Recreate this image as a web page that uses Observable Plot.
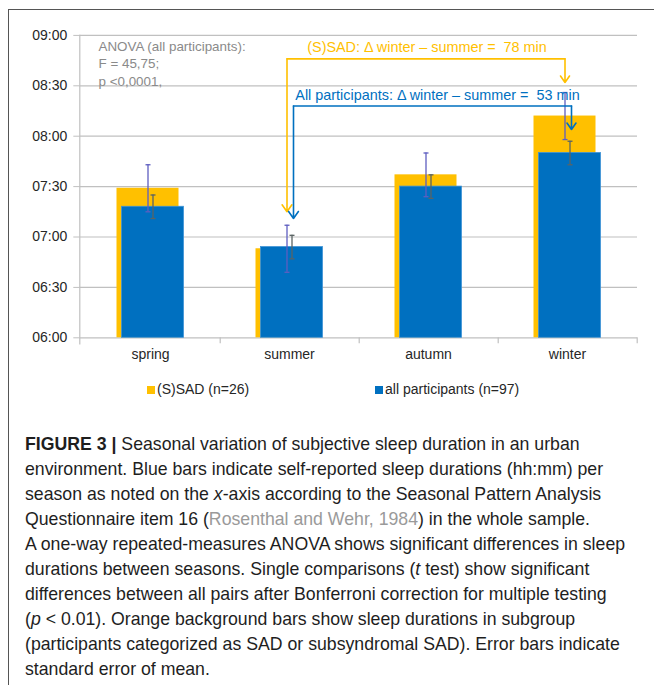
<!DOCTYPE html>
<html><head><meta charset="utf-8">
<script src="https://cdn.jsdelivr.net/npm/d3@7"></script>
<script src="https://cdn.jsdelivr.net/npm/@observablehq/plot@0.6"></script>
<style>
body{margin:0;background:#fff;width:654px;height:685px;overflow:hidden;position:relative;font-family:"Liberation Sans",Arial,sans-serif;}
#frame{position:absolute;left:8px;top:9px;width:700px;height:700px;border-left:1.5px solid #555;border-top:1.5px solid #555;}
#chart{position:absolute;left:0;top:0;}
#legend{position:absolute;top:381px;left:0;width:654px;height:18px;font-size:14px;color:#262626;}
#legend span.item{position:absolute;top:0;white-space:nowrap;}
#legend i{display:inline-block;width:8px;height:8px;margin-right:2px;vertical-align:0px;}
#caption{position:absolute;left:25px;top:432px;font-size:17.7px;line-height:25px;color:#1e1e1e;white-space:nowrap;}
#caption .ref{color:#9a9a9a;}
</style></head>
<body>
<div id="frame"></div>
<div id="chart"></div>
<div id="legend"></div>
<div id="caption"></div>
<script>
// ---- data ----
const seasons = ["spring", "summer", "autumn", "winter"];
const sadMean = ["07:29", "06:53", "07:37", "08:12"];   // (S)SAD, hh:mm
const allMean = ["07:18", "06:54", "07:30", "07:50"];   // all participants, hh:mm
const sadSE = [14, 14, 13, 14];                          // minutes
const allSE = [7, 7, 7, 7];                              // minutes
const yTicks = ["06:00", "06:30", "07:00", "07:30", "08:00", "08:30", "09:00"];
const groups = ["(S)SAD (n=26)", "all participants (n=97)"];
const groupColors = ["#FFC000", "#0070C0"];
const anovaText = ["ANOVA (all participants):", "F = 45,75;", "p <0,0001,"];
const deltaLabels = ["(S)SAD: \u0394 winter \u2013 summer =\u00a0 78 min", "All participants: \u0394 winter \u2013 summer =\u00a0 53 min"];
const deltaLabelLevel = ["08:53", "08:24"];
const connectorLevel = ["08:46", "08:18"];
const arrowTipSummer = ["07:15", "07:11"];
const arrowTipWinter = ["08:32", "08:04"];

// ---- helpers ----
const toMin = s => +s.slice(0, 2) * 60 + +s.slice(3);
const fmt = m => String(Math.floor(m / 60)).padStart(2, "0") + ":" + String(m % 60).padStart(2, "0");

const rows = seasons.map((s, i) => ({season: s, sad: toMin(sadMean[i]), all: toMin(allMean[i]), sadSE: sadSE[i], allSE: allSE[i]}));
const capsSad = rows.flatMap(d => [{season: d.season, y: d.sad - d.sadSE}, {season: d.season, y: d.sad + d.sadSE}]);
const capsAll = rows.flatMap(d => [{season: d.season, y: d.all - d.allSE}, {season: d.season, y: d.all + d.allSE}]);
const capSymbol = {draw(ctx, size) { const r = Math.sqrt(size / Math.PI); ctx.moveTo(-r, 0); ctx.lineTo(r, 0); }};

const W = 654, H = 372, mL = 79.3, mR = 17, mT = 34.9, mB = 34.7;
const step = (W - mL - mR) / seasons.length;
const yBase = toMin(yTicks[0]);
const yTop = toMin(yTicks[yTicks.length - 1]);
const tickVals = yTicks.map(toMin);
const off = [-2.5, 2.5];
const connOff = [-2.5, 4];

const connectors = [0, 1].flatMap(k => [
  {k, season: "summer", y: toMin(connectorLevel[k])},
  {k, season: "winter", y: toMin(connectorLevel[k])}
]);
const arrows = [0, 1].flatMap(k => [
  {k, season: "summer", y1: toMin(connectorLevel[k]), y2: toMin(arrowTipSummer[k])},
  {k, season: "winter", y1: toMin(connectorLevel[k]), y2: toMin(arrowTipWinter[k])}
]);

const marks = [
  Plot.gridY(tickVals, {stroke: "#c0c0c0", strokeOpacity: 1, strokeWidth: 1.2}),
  Plot.frame({anchor: "left", stroke: "#c0c0c0", strokeWidth: 1.2, insetBottom: -6}),
  Plot.ruleX(seasons, {x: d => d, dx: step / 2, y1: yBase, y2: yBase, insetBottom: -6, stroke: "#c0c0c0", strokeWidth: 1.2}),
  Plot.axisY(tickVals, {tickFormat: fmt, tickSize: 6, tickPadding: 6.5, stroke: "#c0c0c0", fill: "#262626", fontSize: 14, label: null}),
  Plot.axisX({tickSize: 0, tickPadding: 11, fontSize: 14, fill: "#262626", label: null}),
  Plot.barY(rows, {x: "season", y1: yBase, y2: "sad", fill: groupColors[0], dx: off[0]}),
  Plot.barY(rows, {x: "season", y1: yBase, y2: "all", fill: groupColors[1], stroke: "#3f93d6", strokeWidth: 0.8, dx: off[1]}),
  Plot.ruleX(rows, {x: "season", y1: d => d.sad - d.sadSE, y2: d => d.sad + d.sadSE, stroke: "#5e5ec0", strokeWidth: 1.3, dx: off[0]}),
  Plot.dot(capsSad, {x: "season", y: "y", symbol: capSymbol, r: 2.5, stroke: "#5e5ec0", strokeWidth: 1.3, dx: off[0]}),
  Plot.ruleX(rows, {x: "season", y1: d => d.all - d.allSE, y2: d => d.all + d.allSE, stroke: "#5a6464", strokeWidth: 1.3, dx: off[1]}),
  Plot.dot(capsAll, {x: "season", y: "y", symbol: capSymbol, r: 2.5, stroke: "#5a6464", strokeWidth: 1.3, dx: off[1]}),
  ...[0, 1].map(k => Plot.line(connectors.filter(d => d.k === k), {x: "season", y: "y", stroke: groupColors[k], strokeWidth: 1.6, dx: connOff[k]})),
  ...[0, 1].map(k => Plot.arrow(arrows.filter(d => d.k === k), {x: "season", y1: "y1", y2: "y2", stroke: groupColors[k], strokeWidth: 1.6, headLength: 8, headAngle: 70, dx: connOff[k]})),
  ...[0, 1].map(k => Plot.text([deltaLabels[k]], {x: () => "autumn", y: () => toMin(deltaLabelLevel[k]), text: d => d, fill: groupColors[k], fontSize: 14.4, dx: k === 0 ? -1.5 : 9})),
  Plot.text([anovaText.join("\n")], {frameAnchor: "top-left", text: d => d, dx: 18.7, dy: 3.3, lineAnchor: "top", lineHeight: 1.3, fontSize: 13.4, fill: "#8a8a8a"})
];

const chart = Plot.plot({
  width: W, height: H,
  marginLeft: mL, marginRight: mR, marginTop: mT, marginBottom: mB,
  style: {fontFamily: "'Liberation Sans', Arial, sans-serif", background: "transparent"},
  x: {domain: seasons, paddingInner: 0.553, paddingOuter: 0.2765, axis: null},
  y: {domain: [yBase, yTop], axis: null},
  marks
});
document.getElementById("chart").appendChild(chart);

// legend
const legendX = [147, 375];
const legend = document.getElementById("legend");
groups.forEach((g, i) => {
  const s = document.createElement("span");
  s.className = "item";
  s.style.left = legendX[i] + "px";
  s.innerHTML = `<i style="background:${groupColors[i]}"></i>${g}`;
  legend.appendChild(s);
});

// caption
const captionLines = [
  "<b>FIGURE 3 |</b> Seasonal variation of subjective sleep duration in an urban",
  "environment. Blue bars indicate self-reported sleep durations (hh:mm) per",
  "season as noted on the <i>x</i>-axis according to the Seasonal Pattern Analysis",
  "Questionnaire item 16 (<span class='ref'>Rosenthal and Wehr, 1984</span>) in the whole sample.",
  "A one-way repeated-measures ANOVA shows significant differences in sleep",
  "durations between seasons. Single comparisons (<i>t</i> test) show significant",
  "differences between all pairs after Bonferroni correction for multiple testing",
  "(<i>p</i> &lt; 0.01). Orange background bars show sleep durations in subgroup",
  "(participants categorized as SAD or subsyndromal SAD). Error bars indicate",
  "standard error of mean."
];
document.getElementById("caption").innerHTML = captionLines.join("<br>");
</script>
</body></html>
